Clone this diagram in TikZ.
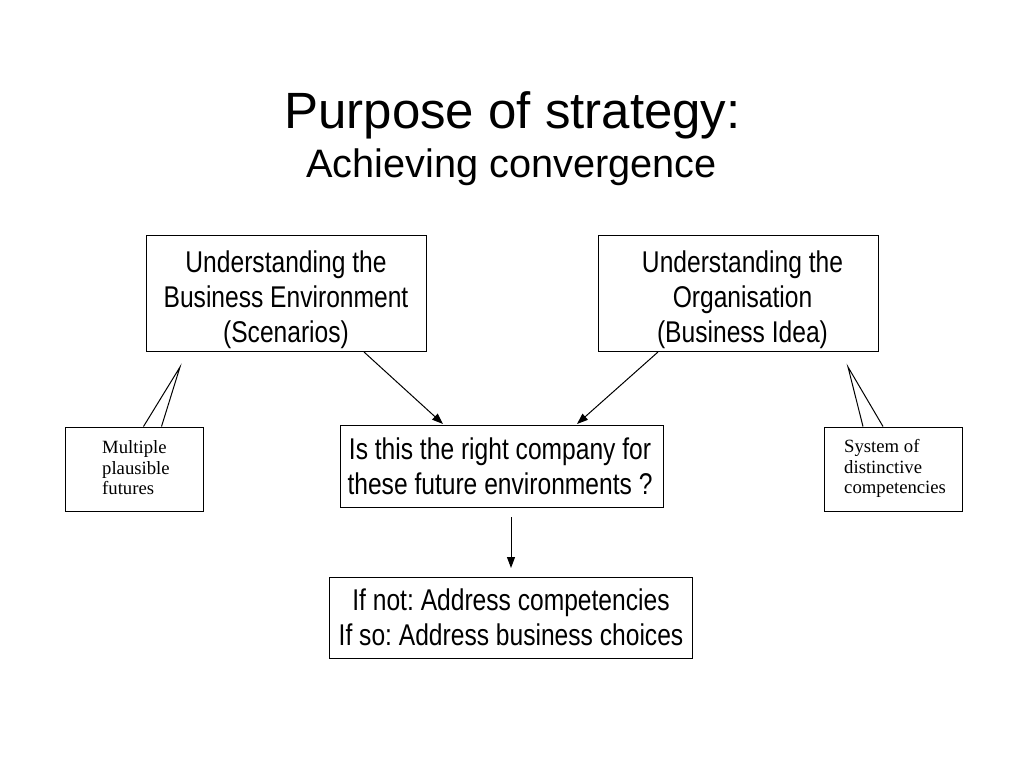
\documentclass[tikz,border=0pt]{standalone}
\usepackage{fontspec}
\setmainfont{Liberation Sans}
\newfontfamily\narrow[FakeStretch=0.82]{Liberation Sans}
\newfontfamily\smallserif{Liberation Serif}
\usetikzlibrary{arrows.meta}
\frenchspacing
\begin{document}
\begin{tikzpicture}[x=1pt,y=-1pt,
  mainbox/.style={draw, line width=1pt, inner sep=0pt},
  boxtext/.style={inner sep=0pt, align=center, text depth=0pt, anchor=south,
    font=\narrow\fontsize{30}{35}\selectfont},
  notebox/.style={draw, line width=1pt, inner sep=0pt},
  notetext/.style={inner sep=0pt, align=left, text depth=0pt, anchor=south west,
    font=\smallserif\fontsize{18.7}{20.5}\selectfont},
  conn/.style={line width=1pt, -{Triangle[length=11pt,width=8pt]}},
  pointer/.style={line width=1pt}]
\useasboundingbox (0,0) rectangle (1024,768);
\fill[white] (0,0) rectangle (1024,768);

\node[anchor=base, inner sep=0pt, font=\fontsize{51}{56}\selectfont] (t1) at (512.5,128) {Purpose of strategy:};
\node[anchor=base, inner sep=0pt, font=\fontsize{39.7}{44}\selectfont] (t2) at (511.5,177) {Achieving convergence};

\node[mainbox, minimum width=280pt, minimum height=116pt] (A) at (286,293) {};
\node[boxtext] (At) at (286,343) {Understanding the\\Business Environment\\(Scenarios)};
\node[mainbox, minimum width=280pt, minimum height=116pt] (B) at (738,293) {};
\node[boxtext] (Bt) at (742.5,343) {Understanding the\\Organisation\\(Business Idea)};
\node[mainbox, minimum width=323pt, minimum height=82pt] (C) at (501.5,466) {};
\node[boxtext] (Ct) at (500,495) {Is this the right company for\\these future environments ?};
\node[mainbox, minimum width=363pt, minimum height=81pt] (D) at (510.5,617.5) {};
\node[boxtext] (Dt) at (511,645.5) {If not: Address competencies\\If so: Address business choices};

% callouts
\node[notebox, minimum width=138pt, minimum height=84pt] (L) at (134.5,469) {};
\node[notetext] (Lt) at (102,495) {Multiple\\plausible\\futures};
\coordinate (Ltip) at (180,367);
\draw[pointer] ([xshift=9pt]L.north) -- (Ltip) -- ([xshift=27pt]L.north);

\node[notebox, minimum width=138pt, minimum height=84pt] (R) at (893.5,469) {};
\node[notetext] (Rt) at (844,494) {System of\\distinctive\\competencies};
\coordinate (Rtip) at (848,367);
\draw[pointer] ([xshift=-30.5pt]R.north) -- (Rtip) -- ([xshift=-10.5pt]R.north);

% arrows
\coordinate (a1) at (364,352);
\coordinate (c1) at (443,424);
\coordinate (b1) at (658,352);
\coordinate (c2) at (577,424);
\coordinate (c3) at (511,517);
\coordinate (d1) at (511,568);
\draw[conn] (a1) -- (c1);
\draw[conn] (b1) -- (c2);
\draw[conn] (c3) -- (d1);
\end{tikzpicture}
\end{document}
